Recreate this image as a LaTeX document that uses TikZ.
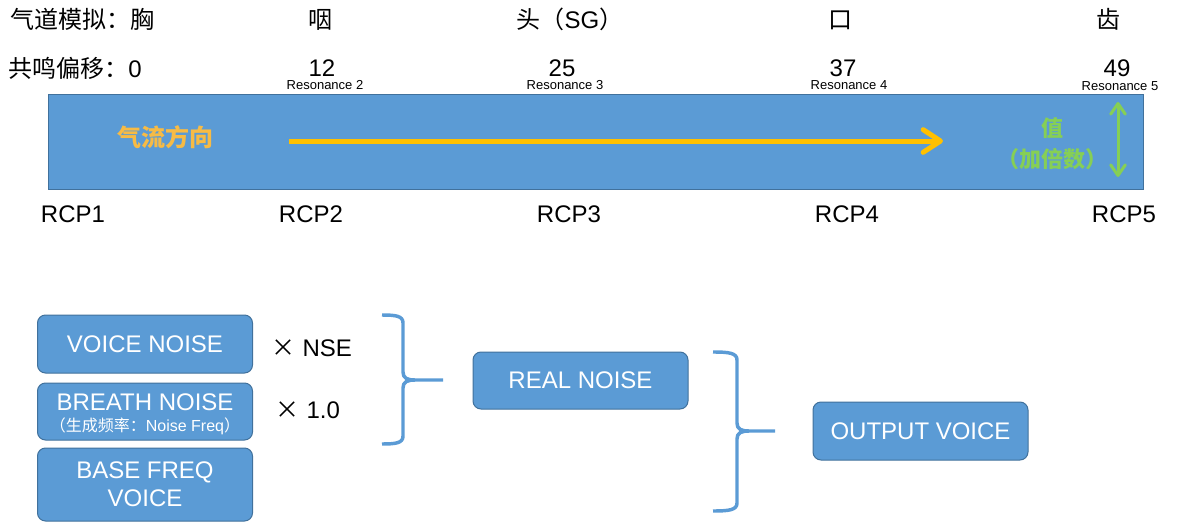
\documentclass[tikz,border=0pt]{standalone}
\usepackage{fontspec}
\setmainfont{Liberation Sans}
\newfontfamily\cjk{Noto Sans CJK SC}
\usetikzlibrary{arrows.meta}
\definecolor{boxblue}{HTML}{5B9BD5}
\definecolor{boxedge}{HTML}{41719C}
\definecolor{flowor}{HTML}{FFC000}
\definecolor{flowtxt}{HTML}{F7BB45}
\definecolor{grn}{HTML}{86CF55}
\begin{document}
\begin{tikzpicture}[x=0.75pt,y={(0pt,-0.75pt)},
  lbl/.style={font=\fontsize{18}{21}\selectfont, inner sep=0pt},
  res/.style={font=\fontsize{9.75}{11}\selectfont, inner sep=0pt},
  tract/.style={fill=boxblue, draw=boxedge, line width=0.75pt, minimum width=821.25pt, minimum height=71.25pt, inner sep=0pt},
  blk/.style={rounded corners=6pt, fill=boxblue, draw=boxedge, line width=0.75pt, text=white, minimum width=161.25pt, inner sep=0pt, align=center, font=\fontsize{18}{21}\selectfont},
  wt/.style={text=white, inner sep=0pt},
  brace/.style={draw=boxblue, line width=2.6pt},
  flow/.style={draw=flowor, line width=3.75pt, -{Straight Barb[length=13pt, width=17pt, round]}},
  gar/.style={draw=grn, line width=2.25pt, {Straight Barb[length=8pt, width=11pt, round]}-{Straight Barb[length=8pt, width=11pt, round]}}
]
\useasboundingbox (0,0) rectangle (1183,525);

% top row
\node[lbl, anchor=base west] (t1) at (10,28) {\cjk 气道模拟：胸};
\node[lbl, anchor=base] (t2) at (320,28) {\cjk 咽};
\node[lbl, anchor=base] (t3) at (570,28) {{\cjk 头（}SG{\cjk ）}};
\node[lbl, anchor=base] (t4) at (840,28) {\cjk 口};
\node[lbl, anchor=base] (t5) at (1108,28) {\cjk 齿};

% offsets
\node[lbl, anchor=base west] (n0) at (8,77) {{\cjk 共鸣偏移：}0};
\node[lbl, anchor=base] (n1) at (322,76) {12};
\node[lbl, anchor=base] (n2) at (562,76) {25};
\node[lbl, anchor=base] (n3) at (843,76) {37};
\node[lbl, anchor=base] (n4) at (1117,76) {49};

\node[res, anchor=base] (r2) at (325,89) {Resonance 2};
\node[res, anchor=base] (r3) at (565,89) {Resonance 3};
\node[res, anchor=base] (r4) at (849,89) {Resonance 4};
\node[res, anchor=base] (r5) at (1120,90) {Resonance 5};

% tract
\node[tract] (tract) at (595.5,141.5) {};
\node[font=\fontsize{18}{21}\selectfont\cjk\bfseries, text=flowtxt, inner sep=0pt] (ft) at (165,137) {气流方向};
\coordinate (fa) at (289,141);
\coordinate (fb) at (943,141);
\draw[flow] (fa) -- (fb);
\node[font=\fontsize{16.5}{18}\selectfont\cjk\bfseries, text=grn, inner sep=0pt] (v1) at (1052,128) {值};
\node[font=\fontsize{16.5}{18}\selectfont\cjk\bfseries, text=grn, inner sep=0pt] (v2) at (1052,159) {（加倍数）};
\coordinate (g1) at (1118,102);
\coordinate (g2) at (1118,177);
\draw[gar] (g1) -- (g2);

% RCP labels
\node[lbl, anchor=base] (c1) at (73,222) {RCP1};
\node[lbl, anchor=base] (c2) at (311,222) {RCP2};
\node[lbl, anchor=base] (c3) at (569,222) {RCP3};
\node[lbl, anchor=base] (c4) at (847,222) {RCP4};
\node[lbl, anchor=base] (c5) at (1124,222) {RCP5};

% bottom boxes
\node[blk, minimum height=43.5pt] (vn) at (145,344) {VOICE NOISE};
\node[blk, minimum height=42.75pt] (bn) at (145,411.5) {};
\node[wt, font=\fontsize{18}{21}\selectfont] (bn1) at (145,402) {BREATH NOISE};
\node[wt, font=\fontsize{12}{13}\selectfont] (bn2) at (145,426) {{\cjk （生成频率：}Noise Freq{\cjk ）}};
\node[blk, minimum height=54.75pt] (bf) at (145,484.5) {BASE FREQ\\VOICE};

\node[lbl] (m1) at (312,348) {{\cjk ×} NSE};
\node[lbl] (m2) at (308,410) {{\cjk ×} 1.0};

\node[blk, minimum height=42.75pt] (rn) at (580.5,380.5) {REAL NOISE};
\node[blk, minimum height=43.5pt] (ov) at (920.5,431) {OUTPUT VOICE};

% braces
\draw[brace] (382,315) .. controls (396,315) and (403,316) .. (403,323) -- (403,372) .. controls (403,378) and (407,380) .. (415,380) -- (443,380);
\draw[brace] (382,444) .. controls (396,444) and (403,443) .. (403,436) -- (403,388) .. controls (403,382) and (407,380) .. (415,380);
\draw[brace] (713,352) .. controls (729,352) and (737,353) .. (737,360) -- (737,423) .. controls (737,429) and (741,431) .. (749,431) -- (775,431);
\draw[brace] (713,511) .. controls (729,511) and (737,510) .. (737,503) -- (737,439) .. controls (737,433) and (741,431) .. (749,431);
\end{tikzpicture}
\end{document}
